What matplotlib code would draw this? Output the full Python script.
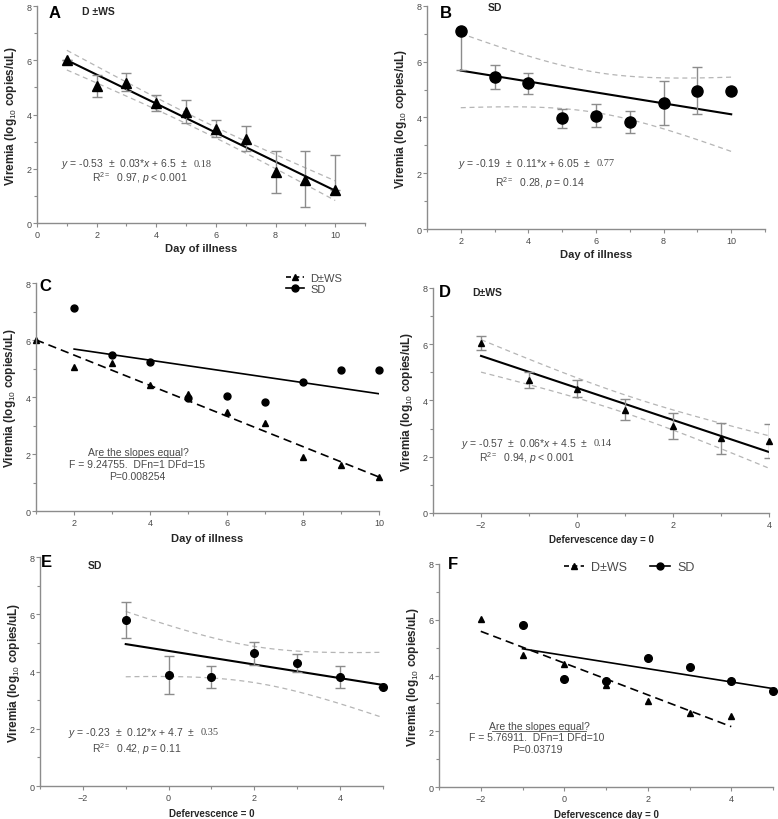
import numpy as np
import matplotlib
matplotlib.use('Agg')
import matplotlib.pyplot as plt
from matplotlib.lines import Line2D
from matplotlib.ticker import MultipleLocator

plt.rcParams['font.family'] = ['Liberation Sans', 'DejaVu Sans']
plt.rcParams['mathtext.fontset'] = 'custom'
plt.rcParams['mathtext.rm'] = 'Liberation Sans'
plt.rcParams['mathtext.it'] = 'Liberation Sans:italic'
plt.rcParams['mathtext.bf'] = 'Liberation Sans:bold'

# D+/-WS by day of illness (panel A, C)
day_dws = [1, 2, 3, 4, 5, 6, 7, 8, 9, 10]
vir_dws = [6.0, 5.04, 5.18, 4.41, 4.1, 3.47, 3.1, 1.88, 1.6, 1.21]
err_dws_lo = [0, 0.41, 0.33, 0.29, 0.4, 0.28, 0.44, 0.77, 1.0, 0]
err_dws_hi = [0, 0.41, 0.35, 0.32, 0.44, 0.33, 0.46, 0.78, 1.05, 1.28]

# SD by day of illness (panel B, C)
day_sd = [2, 3, 4, 5, 6, 7, 8, 9, 10]
vir_sd = [7.12, 5.46, 5.22, 3.98, 4.05, 3.84, 4.52, 4.96, 4.94]
err_sd_lo = [1.4, 0.44, 0.37, 0.35, 0.39, 0.38, 0.8, 0.85, 0]
err_sd_hi = [0, 0.44, 0.36, 0.34, 0.42, 0.4, 0.8, 0.85, 0]

# D+/-WS relative to defervescence (panel D, F)
def_dws = [-2, -1, 0, 1, 2, 3, 4]
vir_def_dws = [6.04, 4.72, 4.42, 3.67, 3.08, 2.65, 2.55]
err_def_dws = [0.24, 0.28, 0.3, 0.37, 0.46, 0.54, 0.6]

# SD relative to defervescence (panel E, F)
def_sd = [-1, 0, 1, 2, 3, 4, 5]
vir_def_sd = [5.8, 3.88, 3.81, 4.64, 4.31, 3.81, 3.46]
err_def_sd = [0.63, 0.66, 0.39, 0.4, 0.31, 0.38, 0]

# two-sided 95% t values by degrees of freedom
T95 = {5: 2.571, 7: 2.365, 8: 2.306}

GRAY = '#8c8c8c'
TXT = '#4a4a4a'
LAB = '#262626'
YLAB = 'Viremia (log$_{10}$ copies/uL)'


def fit_line(x, y):
    x = np.asarray(x, float)
    y = np.asarray(y, float)
    slope, icpt = np.polyfit(x, y, 1)
    xs = np.linspace(x.min(), x.max(), 100)
    return xs, slope * xs + icpt, slope, icpt


def ci_band(x, y):
    # 95% confidence band of the regression line
    x = np.asarray(x, float)
    y = np.asarray(y, float)
    xs, ys, slope, icpt = fit_line(x, y)
    n = len(x)
    resid = y - (slope * x + icpt)
    s = np.sqrt(np.sum(resid ** 2) / (n - 2))
    sxx = np.sum((x - x.mean()) ** 2)
    half = T95[n - 2] * s * np.sqrt(1 / n + (xs - x.mean()) ** 2 / sxx)
    return xs, ys - half, ys + half


def style_axes(ax, xlim, xticks):
    for side in ['top', 'right']:
        ax.spines[side].set_visible(False)
    for side in ['left', 'bottom']:
        ax.spines[side].set_color(GRAY)
        ax.spines[side].set_linewidth(1.0)
    ax.set_xlim(*xlim)
    ax.set_ylim(0, 8)
    ax.set_xticks(xticks)
    ax.xaxis.set_minor_locator(MultipleLocator(1))
    ax.yaxis.set_major_locator(MultipleLocator(2))
    ax.yaxis.set_minor_locator(MultipleLocator(1))
    ax.tick_params(which='both', direction='out', color=GRAY, width=0.8)
    ax.tick_params(which='major', length=3)
    ax.tick_params(which='minor', length=2)
    ax.tick_params(axis='x', labelsize=6.5, labelcolor=TXT, pad=2)
    ax.tick_params(axis='y', labelsize=6.5, labelcolor=TXT, pad=1)
    ax.set_ylabel(YLAB, fontsize=8.5, fontweight='bold', color=LAB, labelpad=5)
    ax.patch.set_alpha(0)


def eq_text(ax, x, y, main, tail):
    t = ax.text(x, y, main, fontsize=7.5, color=TXT, ha='left', va='center')
    ax.annotate(tail, xy=(1, 0.5), xycoords=t, xytext=(4, 0),
                textcoords='offset points', fontsize=7.5, color=TXT,
                ha='left', va='center', family='Liberation Serif')


def panel_fit(ax, x, y, lo, hi, marker, ms):
    bx, blo, bhi = ci_band(x, y)
    ax.plot(bx, blo, color='#b5b5b5', lw=0.9, ls=(0, (4, 3)), zorder=1)
    ax.plot(bx, bhi, color='#b5b5b5', lw=0.9, ls=(0, (4, 3)), zorder=1)
    xs, ys, _, _ = fit_line(x, y)
    ax.plot(xs, ys, color='black', lw=1.5, zorder=2)
    ax.errorbar(x, y, yerr=[lo, hi], fmt='none', ecolor=GRAY, elinewidth=1.0,
                capsize=3.5, capthick=1.0, zorder=3)
    ax.plot(x, y, ls='none', marker=marker, ms=ms, color='black', zorder=4,
            clip_on=False)


fig = plt.figure(figsize=(7.78, 8.2), dpi=100)

# ---------- A ----------
axA = fig.add_axes([0.0476, 0.7268, 0.4216, 0.2646])
style_axes(axA, (0, 11), [0, 2, 4, 6, 8, 10])
panel_fit(axA, day_dws, vir_dws, err_dws_lo, err_dws_hi, '^', 7)
axA.set_xlabel('Day of illness', fontsize=8, fontweight='bold', color=LAB, labelpad=3)
axA.text(0.6, 7.75, 'A', fontsize=12, fontweight='bold', ha='center', va='center')
axA.text(1.5, 7.8, 'D \u00b1WS', fontsize=7.5, fontweight='bold', ha='left', va='center', color=LAB)
eq_text(axA, 0.8, 2.2, '$y$ = -0.53  \u00b1  0.03*$x$ + 6.5  \u00b1', '0.18')
axA.text(1.85, 1.68, 'R$^{2=}$  0.97, $p$ < 0.001', fontsize=7.5, color=TXT, ha='left', va='center')

# ---------- B ----------
axB = fig.add_axes([0.5488, 0.7195, 0.4345, 0.272])
style_axes(axB, (1, 11), [2, 4, 6, 8, 10])
panel_fit(axB, day_sd, vir_sd, err_sd_lo, err_sd_hi, 'o', 8)
axB.set_xlabel('Day of illness', fontsize=8, fontweight='bold', color=LAB, labelpad=3)
axB.text(1.57, 7.78, 'B', fontsize=12, fontweight='bold', ha='center', va='center')
axB.text(3.0, 7.95, 'SD', fontsize=7.5, fontweight='bold', ha='center', va='center', color=LAB)
eq_text(axB, 1.92, 2.37, '$y$ = -0.19  \u00b1  0.11*$x$ + 6.05  \u00b1', '0.77')
axB.text(3.02, 1.7, 'R$^{2=}$  0.28, $p$ = 0.14', fontsize=7.5, color=TXT, ha='left', va='center')

# ---------- C ----------
axC = fig.add_axes([0.0463, 0.3756, 0.4409, 0.278])
style_axes(axC, (1, 10), [2, 4, 6, 8, 10])
xs, ys, _, _ = fit_line(day_dws, vir_dws)
axC.plot(xs, ys, color='black', lw=1.2, ls=(0, (5, 3)))
xs, ys, _, _ = fit_line(day_sd, vir_sd)
axC.plot(xs, ys, color='black', lw=1.2)
axC.plot(day_dws, vir_dws, ls='none', marker='^', ms=5, color='black', clip_on=False)
axC.plot(day_sd, vir_sd, ls='none', marker='o', ms=5, color='black', clip_on=False)
axC.set_xlabel('Day of illness', fontsize=8, fontweight='bold', color=LAB, labelpad=4)
axC.text(1.24, 7.93, 'C', fontsize=12, fontweight='bold', ha='center', va='center')
hC = [Line2D([], [], color='black', lw=1.2, ls=(0, (3, 2)), marker='^', ms=5),
      Line2D([], [], color='black', lw=1.2, marker='o', ms=5)]
axC.legend(hC, ['D\u00b1WS', 'SD'], loc='upper left', bbox_to_anchor=(0.7, 1.09),
           frameon=False, fontsize=8, handlelength=1.6, handletextpad=0.6,
           labelspacing=0.15, labelcolor=TXT)
axC.text(3.7, 2.08, 'Are the slopes equal?', fontsize=7.5, color=TXT, ha='center', va='center')
axC.plot([2.62, 4.78], [1.9, 1.9], color=TXT, lw=0.6)
axC.text(3.65, 1.64, 'F = 9.24755.  DFn=1 DFd=15', fontsize=7.5, color=TXT, ha='center', va='center')
axC.text(3.65, 1.24, 'P=0.008254', fontsize=7.5, color=TXT, ha='center', va='center')

# ---------- D ----------
axD = fig.add_axes([0.5566, 0.3732, 0.4319, 0.2744])
style_axes(axD, (-3, 4), [-2, 0, 2, 4])
panel_fit(axD, def_dws, vir_def_dws, err_def_dws, err_def_dws, '^', 5)
axD.set_xlabel('Defervescence day = 0', fontsize=7, fontweight='bold', color=LAB, labelpad=4)
axD.text(-2.75, 7.86, 'D', fontsize=12, fontweight='bold', ha='center', va='center')
axD.text(-2.19, 7.86, 'D\u00b1WS', fontsize=7.5, fontweight='bold', ha='left', va='center', color=LAB)
eq_text(axD, -2.42, 2.5, '$y$ = -0.57  \u00b1  0.06*$x$ + 4.5  \u00b1', '0.14')
axD.text(-2.04, 1.97, 'R$^{2=}$  0.94, $p$ < 0.001', fontsize=7.5, color=TXT, ha='left', va='center')

# ---------- E ----------
axE = fig.add_axes([0.0514, 0.0402, 0.4409, 0.2793])
style_axes(axE, (-3, 5), [-2, 0, 2, 4])
panel_fit(axE, def_sd, vir_def_sd, err_def_sd, err_def_sd, 'o', 5.5)
axE.set_xlabel('Defervescence = 0', fontsize=7, fontweight='bold', color=LAB, labelpad=4)
axE.text(-2.84, 7.83, 'E', fontsize=12, fontweight='bold', ha='center', va='center')
axE.text(-1.72, 7.73, 'SD', fontsize=7.5, fontweight='bold', ha='center', va='center', color=LAB)
eq_text(axE, -2.35, 1.89, '$y$ = -0.23  \u00b1  0.12*$x$ + 4.7  \u00b1', '0.35')
axE.text(-1.79, 1.31, 'R$^{2=}$  0.42, $p$ = 0.11', fontsize=7.5, color=TXT, ha='left', va='center')

# ---------- F ----------
axF = fig.add_axes([0.5643, 0.039, 0.4293, 0.272])
style_axes(axF, (-3, 5), [-2, 0, 2, 4])
xs, ys, _, _ = fit_line(def_dws, vir_def_dws)
axF.plot(xs, ys, color='black', lw=1.2, ls=(0, (5, 3)))
xs, ys, _, _ = fit_line(def_sd, vir_def_sd)
axF.plot(xs, ys, color='black', lw=1.2)
axF.plot(def_dws, vir_def_dws, ls='none', marker='^', ms=5, color='black', clip_on=False)
axF.plot(def_sd, vir_def_sd, ls='none', marker='o', ms=5.5, color='black', clip_on=False)
axF.set_xlabel('Defervescence day = 0', fontsize=7, fontweight='bold', color=LAB, labelpad=4)
axF.text(-2.66, 8.0, 'F', fontsize=12, fontweight='bold', ha='center', va='center')
hF = [Line2D([], [], color='black', lw=1.2, ls=(0, (3, 2)), marker='^', ms=5),
      Line2D([], [], color='black', lw=1.2, marker='o', ms=5)]
axF.legend(hF, ['D\u00b1WS', 'SD'], loc='center left', bbox_to_anchor=(0.34, 0.985),
           ncol=2, frameon=False, fontsize=9, handlelength=1.6, handletextpad=0.6,
           columnspacing=1.8, labelcolor=TXT)
axF.text(-0.6, 2.2, 'Are the slopes equal?', fontsize=7.5, color=TXT, ha='center', va='center')
axF.plot([-1.72, 0.52], [2.02, 2.02], color=TXT, lw=0.6)
axF.text(-0.65, 1.78, 'F = 5.76911.  DFn=1 DFd=10', fontsize=7.5, color=TXT, ha='center', va='center')
axF.text(-0.65, 1.38, 'P=0.03719', fontsize=7.5, color=TXT, ha='center', va='center')

fig.savefig('out.png', dpi=100)
